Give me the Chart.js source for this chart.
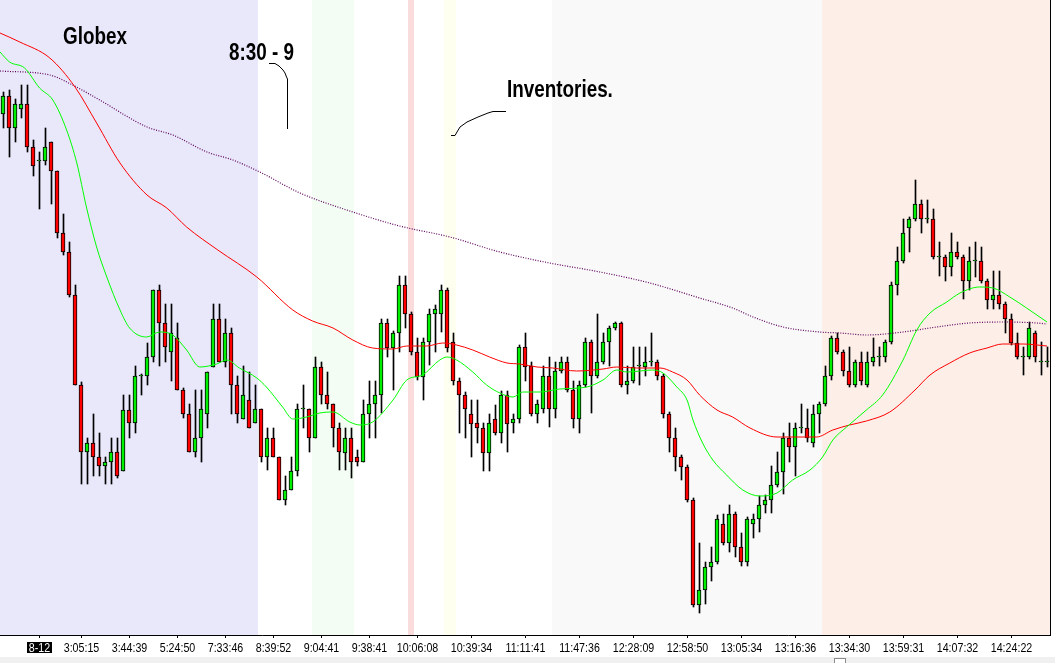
<!DOCTYPE html>
<html>
<head>
<meta charset="utf-8">
<script src="https://cdn.jsdelivr.net/npm/chart.js@4.4.1/dist/chart.umd.min.js"></script>
<style>
  html, body { margin: 0; padding: 0; background: #fff; }
  #wrap { width: 1055px; height: 663px; position: relative; }
</style>
</head>
<body>
<div id="wrap"><canvas id="myChart"></canvas></div>
<script>
// bar data (one entry per bar)
const open = [
  97.86,98.04,97.72,97.91,97.96,97.53,97.39,97.39,97.58,97.29,
  96.67,96.48,96.05,95.15,94.48,94.57,94.43,94.34,94.38,94.48,
  94.29,94.90,94.77,95.24,95.24,95.43,96.10,95.77,95.48,95.62,
  95.10,94.86,94.48,94.62,94.86,95.33,95.81,95.38,95.67,95.15,
  94.81,95.00,94.77,94.91,94.43,94.62,94.43,94.00,94.10,94.29,
  94.91,94.91,94.62,95.33,95.05,94.96,94.72,94.47,94.62,94.43,
  94.38,94.86,94.96,95.05,95.77,95.52,95.67,96.15,95.86,95.48,
  95.23,95.58,95.86,95.86,96.10,95.58,95.19,95.05,94.86,94.77,
  94.72,94.47,94.81,94.67,95.05,94.77,94.81,95.53,95.34,94.86,
  94.91,95.24,94.91,95.29,95.38,95.10,94.81,95.15,95.58,95.24,
  95.38,95.58,95.72,95.77,95.15,95.19,95.34,95.33,95.38,95.38,
  95.24,94.86,94.62,94.43,94.33,94.00,92.95,93.10,93.33,93.38,
  93.76,93.57,93.86,93.53,93.38,93.76,93.81,93.95,94.00,94.15,
  94.28,94.62,94.53,94.72,94.72,94.57,94.86,94.96,95.24,95.62,
  95.48,95.29,95.15,95.38,95.15,95.38,95.43,95.43,95.58,96.15,
  96.39,96.72,96.81,96.96,96.81,96.81,96.43,96.43,96.33,96.48,
  96.43,96.19,96.39,96.39,96.19,96.00,96.05,95.96,95.81,95.57,
  95.43,95.43,95.67,95.38,95.38
];
const high = [
  98.08,98.10,98.01,98.15,98.15,97.60,97.48,97.72,97.58,97.29,
  96.86,96.58,96.15,95.18,94.62,94.86,94.67,94.43,94.62,94.62,
  95.05,95.05,95.34,95.26,95.57,96.10,96.15,95.96,95.96,95.77,
  95.12,94.96,95.10,95.10,95.28,95.96,95.96,95.81,95.72,95.24,
  95.34,95.28,95.15,94.91,94.72,94.72,94.43,94.24,94.43,94.96,
  95.15,94.91,95.43,95.38,95.28,94.96,94.77,94.72,94.72,94.50,
  95.00,95.19,95.19,95.81,95.81,95.69,96.24,96.24,95.88,95.62,
  95.62,95.91,95.95,96.15,96.12,95.67,95.22,95.08,95.00,95.00,
  94.77,94.86,94.95,95.09,95.09,94.86,95.55,95.67,95.38,95.00,
  95.34,95.43,95.38,95.43,95.43,95.19,95.19,95.62,95.60,95.86,
  95.67,95.74,95.78,95.78,95.34,95.53,95.53,95.53,95.67,95.40,
  95.26,94.88,94.72,94.45,94.35,94.02,93.57,93.38,93.53,93.85,
  93.86,93.95,93.88,93.67,93.83,93.86,94.04,94.05,94.34,94.48,
  94.67,94.77,94.77,94.96,94.91,94.95,94.98,95.34,95.64,95.67,
  95.50,95.53,95.40,95.48,95.48,95.62,95.53,95.60,96.18,96.53,
  96.81,96.83,97.20,97.00,97.00,96.91,96.58,96.45,96.67,96.58,
  96.45,96.53,96.58,96.53,96.21,96.29,96.29,95.98,95.86,95.67,
  95.53,95.78,95.69,95.58,95.53
];
const low = [
  97.72,97.43,97.58,97.82,97.48,97.24,96.91,97.35,96.96,96.62,
  96.45,96.03,95.15,94.16,94.16,94.24,94.24,94.16,94.16,94.22,
  94.29,94.62,94.67,95.05,95.15,95.38,95.34,95.38,95.19,95.10,
  94.82,94.48,94.43,94.38,94.72,95.33,95.38,95.33,94.86,94.77,
  94.81,94.72,94.77,94.38,94.30,94.43,94.00,93.95,94.10,94.24,
  94.72,94.48,94.62,94.96,94.91,94.53,94.30,94.30,94.22,94.34,
  94.38,94.62,94.62,94.87,95.43,95.10,95.48,95.72,95.45,95.20,
  95.00,95.35,95.48,95.68,95.48,95.15,94.67,94.62,94.43,94.57,
  94.29,94.29,94.65,94.57,94.48,94.67,94.77,95.19,94.84,94.77,
  94.87,94.73,94.82,95.27,95.08,94.72,94.67,95.13,94.87,95.22,
  95.36,95.34,95.70,95.13,95.06,95.17,95.15,95.24,95.34,95.20,
  94.82,94.48,94.29,94.20,93.98,92.93,92.87,92.96,93.19,93.36,
  93.55,93.48,93.43,93.34,93.34,93.62,93.68,93.87,93.87,94.13,
  94.06,94.38,94.24,94.67,94.58,94.53,94.67,94.94,95.20,95.46,
  95.24,95.13,95.13,95.15,95.13,95.34,95.34,95.38,95.56,96.05,
  96.37,96.48,96.79,96.67,96.77,96.41,96.24,96.19,96.24,96.41,
  96.01,96.10,96.23,96.17,95.91,95.91,95.91,95.67,95.55,95.41,
  95.25,95.41,95.38,95.25,95.33
];
const close = [
  98.04,97.72,97.96,97.96,97.53,97.34,97.39,97.53,97.29,96.67,
  96.48,96.05,95.15,94.48,94.57,94.43,94.34,94.38,94.48,94.24,
  94.90,94.77,95.24,95.24,95.43,96.10,95.77,95.53,95.67,95.10,
  94.86,94.48,94.62,94.91,95.28,95.81,95.38,95.67,95.15,94.86,
  95.05,94.72,94.91,94.43,94.62,94.43,94.00,94.10,94.29,94.91,
  94.91,94.62,95.33,95.05,94.96,94.72,94.48,94.62,94.38,94.38,
  94.86,94.96,95.05,95.77,95.52,95.67,96.15,95.86,95.48,95.23,
  95.58,95.86,95.91,96.10,95.52,95.19,95.05,94.91,94.76,94.72,
  94.47,94.77,94.67,95.05,94.76,94.81,95.53,95.33,94.86,94.96,
  95.24,94.91,95.29,95.38,95.10,94.81,95.15,95.58,95.24,95.38,
  95.58,95.72,95.77,95.15,95.19,95.33,95.34,95.38,95.38,95.24,
  94.86,94.62,94.43,94.33,94.00,92.95,93.10,93.33,93.38,93.81,
  93.57,93.86,93.53,93.38,93.81,93.81,93.95,94.00,94.15,94.28,
  94.62,94.53,94.72,94.72,94.62,94.86,94.96,95.24,95.62,95.48,
  95.29,95.15,95.38,95.19,95.38,95.43,95.43,95.58,96.15,96.39,
  96.67,96.81,96.96,96.81,96.81,96.43,96.43,96.33,96.48,96.43,
  96.19,96.39,96.39,96.19,96.00,96.05,95.96,95.81,95.57,95.43,
  95.43,95.72,95.43,95.38,95.38
];

// moving averages: [bar, value]
const fastMA = [
  [-0.5,98.48],[1.1,98.38],[3.6,98.32],[6.1,98.12],[8.3,98.00],[10.6,97.70],[12.3,97.37],
  [13.9,96.93],[15.6,96.53],[17.3,96.23],[19.5,95.90],[21.1,95.72],[23.9,95.63],[26.1,95.68],
  [28.3,95.65],[30.6,95.50],[32.8,95.33],[35.6,95.36],[37.3,95.40],[39.4,95.32],[42.3,95.22],
  [43.9,95.13],[46.6,94.93],[48.3,94.81],[50.6,94.83],[52.8,94.87],[55,94.88],[57.8,94.78],
  [59.5,94.75],[61.6,94.78],[65,95.00],[67.3,95.20],[69.9,95.25],[72.8,95.40],[74,95.43],
  [75.6,95.40],[78.3,95.28],[80.6,95.15],[82.8,95.07],[85,95.03],[86.6,95.08],[89.5,95.08],
  [92.8,95.11],[97.3,95.13],[100,95.20],[102.3,95.30],[104,95.28],[108.3,95.30],[110,95.27],
  [112.3,95.13],[114,95.00],[115,94.80],[116.6,94.57],[118.3,94.40],[120.6,94.25],[123.3,94.10],
  [126.1,94.04],[129,94.07],[131.6,94.20],[134.5,94.30],[136.6,94.43],[138.3,94.60],[140.6,94.73],
  [143.9,94.90],[146.6,95.05],[150,95.40],[152.3,95.70],[154.5,95.87],[157.3,95.98],[159.5,96.07],
  [162.8,96.13],[165,96.12],[167.8,96.03],[170.6,95.92],[174,95.78]
];
const slowMA = [
  [-0.5,98.67],[2.8,98.58],[7.8,98.42],[12,98.13],[15.6,97.77],[19.5,97.37],[24,97.05],
  [27.3,96.92],[30.6,96.73],[35.8,96.50],[42.3,96.23],[48.3,95.90],[51.6,95.79],[55,95.72],
  [58.3,95.60],[61.6,95.52],[65,95.51],[67.3,95.54],[70.6,95.54],[73.3,95.57],[75.6,95.55],
  [78.3,95.50],[81.1,95.43],[84,95.37],[86.1,95.36],[89,95.33],[91.6,95.32],[95.6,95.29],
  [100,95.31],[102.3,95.33],[105.6,95.32],[109.5,95.32],[111.6,95.28],[114,95.20],[116.1,95.05],
  [119,94.90],[121.6,94.83],[124.5,94.72],[129,94.63],[135.6,94.63],[138.3,94.70],[141.1,94.75],
  [143.9,94.79],[147.8,94.88],[152,95.10],[154.5,95.25],[157.8,95.37],[161.1,95.47],[164,95.52],
  [166.6,95.56],[170,95.56],[174,95.54]
];
const longMA = [
  [-0.5,98.29],[7.8,98.25],[11.6,98.15],[16.1,98.00],[24,97.73],[28.3,97.65],[34,97.48],
  [38.3,97.40],[42.8,97.28],[49.5,97.07],[57.8,96.89],[66.1,96.74],[74.5,96.63],[82.8,96.48],
  [91.1,96.37],[99.5,96.28],[107.8,96.17],[116.1,96.02],[121.6,95.92],[125,95.83],[130,95.73],
  [136.1,95.68],[139.5,95.67],[144,95.65],[150,95.68],[155.6,95.73],[161.1,95.77],[166.6,95.78],
  [172.3,95.77],[174,95.76]
];

// time axis
const tickBars = [6,13,21,29,37,45,53,61,69,78,87,96,105,114,123,132,141,150,159,168];
const tickLabels = ['8-12','3:05:15','3:44:39','5:24:50','7:33:46','8:39:52','9:04:41','9:38:41',
  '10:06:08','10:39:34','11:11:41','11:47:36','12:28:09','12:58:50','13:05:34','13:16:36',
  '13:34:30','13:59:31','14:07:32','14:24:22'];

// session shading: first bar, last bar, colour
const sessionFirst = [0, 52, 68, 74, 92, 137];
const sessionLast  = [42, 58, 68, 75, 136, 174];
const sessionColor = ['#e8e8fa', '#f3fdf3', '#fadcdc', '#fffff0', '#f9f9f9', '#fdefe8'];

const UP = '#00ee00', DOWN = '#ff0000';
const WICK_SHIFT = 1 / 12;   // puts the 1px wick on a whole pixel
const SANS = '"Liberation Sans", Arial, sans-serif';
const SQUEEZE = 0.82;        // no narrow face installed, so squeeze Liberation Sans

const wicks = open.map((o, i) => ({ x: i + WICK_SHIFT, y: [low[i], high[i]] }));
const bodies = open.map((o, i) => ({ x: i, y: [o, close[i]] }));
const bodyColors = open.map((o, i) => close[i] >= o ? UP : DOWN);
const pts = arr => arr.map(p => ({ x: p[0], y: p[1] }));

function narrowText(ctx, txt, x, y, align) {
  ctx.save();
  ctx.translate(x, y);
  ctx.scale(SQUEEZE, 1);
  ctx.textAlign = align || 'left';
  ctx.fillText(txt, 0, 0);
  ctx.restore();
}

const sessions = {
  id: 'sessions',
  beforeDraw(chart) {
    const { ctx, chartArea: a, scales: { x } } = chart;
    ctx.save();
    sessionFirst.forEach((f, k) => {
      const x0 = x.getPixelForValue(f - 0.5);
      const x1 = x.getPixelForValue(sessionLast[k] + 0.5);
      ctx.fillStyle = sessionColor[k];
      ctx.fillRect(x0, a.top, x1 - x0, a.bottom - a.top);
    });
    ctx.restore();
  },
  afterDraw(chart) {
    const { ctx, chartArea: a, scales: { x } } = chart;
    ctx.save();
    // right border
    ctx.strokeStyle = '#000';
    ctx.lineWidth = 1;
    ctx.beginPath();
    ctx.moveTo(a.right + 0.5, 0);
    ctx.lineTo(a.right + 0.5, a.bottom + 1);
    ctx.stroke();

    // time labels
    ctx.font = '13px ' + SANS;
    ctx.textBaseline = 'middle';
    tickBars.forEach((b, i) => {
      const px = x.getPixelForValue(b);
      if (i === 0) {
        ctx.fillStyle = '#000';
        ctx.fillRect(Math.round(px) - 12, a.bottom + 7, 25, 11);
        ctx.fillStyle = '#fff';
      } else {
        ctx.fillStyle = '#000';
      }
      narrowText(ctx, tickLabels[i], px + 0.5, a.bottom + 13, 'center');
    });

    // notes
    ctx.fillStyle = '#000';
    ctx.font = 'bold 23px ' + SANS;
    ctx.textBaseline = 'alphabetic';
    narrowText(ctx, 'Globex', 63, 44);
    narrowText(ctx, '8:30 - 9', 229, 60);
    narrowText(ctx, 'Inventories.', 507, 97);
    const path = p => {
      ctx.beginPath();
      p.forEach((q, i) => i ? ctx.lineTo(q[0], q[1]) : ctx.moveTo(q[0], q[1]));
      ctx.stroke();
    };
    path([[269,63.5],[275,63.5],[279,66],[283,70],[285,73],[286.5,77],[287.5,79],[287.5,129]]);
    path([[506,111.5],[493,111.5],[488,113],[478,117],[467,122],[460,127],[457,132],[455,135.5],[451,135.5]]);

    // scroll bar
    ctx.fillStyle = '#f0f0f0';
    ctx.fillRect(0, 657, chart.width, 6);
    ctx.fillStyle = '#fff';
    ctx.fillRect(834, 658, 12, 5);
    ctx.strokeStyle = '#8a8a8a';
    ctx.strokeRect(834.5, 658.5, 11, 5);
    ctx.restore();
  }
};

new Chart(document.getElementById('myChart'), {
  type: 'bar',
  data: {
    datasets: [
      { type: 'line', label: 'fast', data: pts(fastMA), borderColor: '#00ff00', borderWidth: 1,
        pointRadius: 0, cubicInterpolationMode: 'monotone', order: 0 },
      { type: 'line', label: 'slow', data: pts(slowMA), borderColor: '#ff0000', borderWidth: 1,
        pointRadius: 0, cubicInterpolationMode: 'monotone', order: 0 },
      { type: 'line', label: 'long', data: pts(longMA), borderColor: '#5c005c', borderWidth: 1.2,
        borderDash: [1, 1.5], pointRadius: 0, cubicInterpolationMode: 'monotone', order: 0 },
      { label: 'body', data: bodies, backgroundColor: bodyColors, borderColor: '#000', borderWidth: 1,
        borderSkipped: false, barThickness: 4, minBarLength: 1, grouped: false, order: 1 },
      { label: 'wick', data: wicks, backgroundColor: '#000', borderWidth: 0,
        barThickness: 1, grouped: false, order: 2 }
    ]
  },
  options: {
    responsive: true,
    maintainAspectRatio: false,
    animation: false,
    events: [],
    layout: { padding: { left: 0, right: 5, top: 0, bottom: 6 } },
    plugins: { legend: { display: false }, tooltip: { enabled: false } },
    scales: {
      x: {
        type: 'linear',
        min: -0.5,
        max: 174.5,
        offset: false,
        grid: { offset: false, drawOnChartArea: false, tickLength: 3, color: '#000' },
        border: { display: true, color: '#000' },
        afterBuildTicks: s => { s.ticks = tickBars.map(v => ({ value: v })); },
        afterFit: s => { s.height = 22; },
        ticks: { autoSkip: false, maxRotation: 0, callback: () => '' }
      },
      y: { type: 'linear', min: 92.65, max: 99, display: false }
    }
  },
  plugins: [sessions]
});
</script>
</body>
</html>
